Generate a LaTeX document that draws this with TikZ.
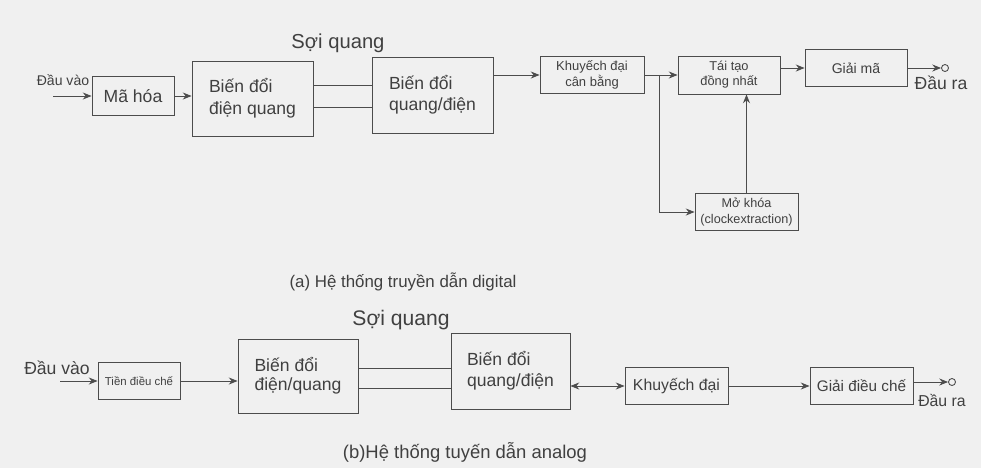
\documentclass[tikz,border=0pt]{standalone}
\usepackage{fontspec}
\setmainfont{Liberation Sans}
\usetikzlibrary{arrows.meta}
\begin{document}
\begin{tikzpicture}[>={Stealth[length=5pt,width=4pt]}, x=0.02cm, y=-0.02cm,
  blk/.style={draw=black!70, line width=0.5pt, text=black!75, align=center, inner sep=1pt},
  lbl/.style={text=black!75, inner sep=0pt},
  wire/.style={draw=black!70, line width=0.5pt},
  outc/.style={draw=black!70, line width=0.5pt, circle, inner sep=0pt, minimum size=0.14cm}]

\fill[black!6] (0,0) rectangle (981,468);
\useasboundingbox (0,0) rectangle (981,468);

% (a) digital
\node[lbl, font=\fontsize{8}{9}\selectfont] (in1) at (63,80) {Đầu vào};
\coordinate (s1) at (53,96);
\node[blk, minimum width=1.64cm, minimum height=0.78cm, font=\fontsize{10}{12}\selectfont] (mahoa) at (133,96) {Mã hóa};
\node[blk, minimum width=2.42cm, minimum height=1.5cm, align=left, font=\fontsize{10}{12.5}\selectfont] (bdq1) at (252.5,98.5) {Biến đổi\\điện quang};
\node[blk, minimum width=2.42cm, minimum height=1.52cm, align=left, font=\fontsize{10}{12}\selectfont] (qd1) at (432.5,95) {Biến đổi\\quang/điện};
\node[lbl, font=\fontsize{11.5}{13}\selectfont] (soi1) at (338,43) {Sợi quang};
\node[blk, minimum width=2.08cm, minimum height=0.74cm, font=\fontsize{7.4}{9}\selectfont] (kdcb) at (592,75) {Khuyếch đại\\cân bằng};
\node[blk, minimum width=2.04cm, minimum height=0.76cm, font=\fontsize{7.3}{8.5}\selectfont] (taitao) at (729,75) {Tái tạo\\đồng nhất};
\node[blk, minimum width=2.04cm, minimum height=0.74cm, font=\fontsize{8}{9}\selectfont] (giaima) at (856,68) {Giải mã};
\node[blk, minimum width=2.06cm, minimum height=0.74cm, font=\fontsize{7.2}{9}\selectfont] (mokhoa) at (746.5,212) {Mở khóa\\(clockextraction)};
\node[outc] (out1) at (945,68) {};
\node[lbl, font=\fontsize{10}{12}\selectfont] (ra1) at (941,83) {Đầu ra};
\coordinate (j1) at (659,75);
\node[lbl, font=\fontsize{9.6}{11}\selectfont] (capa) at (403,282) {(a) Hệ thống truyền dẫn digital};

\draw[wire, ->] (s1) -- (mahoa);
\draw[wire, ->] (mahoa) -- (bdq1.west |- mahoa);
\draw[wire] (bdq1.east |- 0,85) -- (qd1.west |- 0,85);
\draw[wire] (bdq1.east |- 0,107) -- (qd1.west |- 0,107);
\draw[wire, ->] (qd1.east |- kdcb) -- (kdcb.west);
\draw[wire, ->] (kdcb) -- (taitao);
\draw[wire, ->] (j1) |- (mokhoa.west);
\draw[wire, ->] (mokhoa.north) -- (mokhoa.north |- taitao.south);
\draw[wire, ->] (taitao.east |- giaima) -- (giaima.west);
\draw[wire, ->] (giaima.east) -- (out1.west);

% (b) analog
\node[lbl, font=\fontsize{10}{12}\selectfont] (in2) at (57,368) {Đầu vào};
\coordinate (s2) at (60,381);
\node[blk, minimum width=1.64cm, minimum height=0.74cm, font=\fontsize{6.5}{8}\selectfont] (tien) at (139,381) {Tiền điều chế};
\node[blk, minimum width=2.4cm, minimum height=1.48cm, align=left, font=\fontsize{10}{11}\selectfont] (bdq2) at (298,376) {Biến đổi\\điện/quang};
\node[blk, minimum width=2.38cm, minimum height=1.52cm, align=left, font=\fontsize{10}{12}\selectfont] (qd2) at (510.5,371) {Biến đổi\\quang/điện};
\node[lbl, font=\fontsize{12}{14}\selectfont] (soi2) at (401,320) {Sợi quang};
\node[blk, minimum width=2.06cm, minimum height=0.74cm, font=\fontsize{9}{11}\selectfont] (kd) at (676.5,386) {Khuyếch đại};
\node[blk, minimum width=2.06cm, minimum height=0.74cm, font=\fontsize{8.7}{10}\selectfont] (gdc) at (861.5,386) {Giải điều chế};
\node[outc] (out2) at (952,382) {};
\node[lbl, font=\fontsize{9}{11}\selectfont] (ra2) at (942,400) {Đầu ra};
\node[lbl, font=\fontsize{10.5}{12}\selectfont] (capb) at (465,452) {(b)Hệ thống tuyến dẫn analog};

\draw[wire, ->] (s2) -- (tien);
\draw[wire, ->] (tien) -- (bdq2.west |- tien);
\draw[wire] (bdq2.east |- 0,368) -- (qd2.west |- 0,368);
\draw[wire] (bdq2.east |- 0,388) -- (qd2.west |- 0,388);
\draw[wire, <->] (qd2.east |- kd) -- (kd.west);
\draw[wire, ->] (kd) -- (gdc);
\draw[wire, ->] (gdc.east |- out2) -- (out2.west);
\end{tikzpicture}
\end{document}
